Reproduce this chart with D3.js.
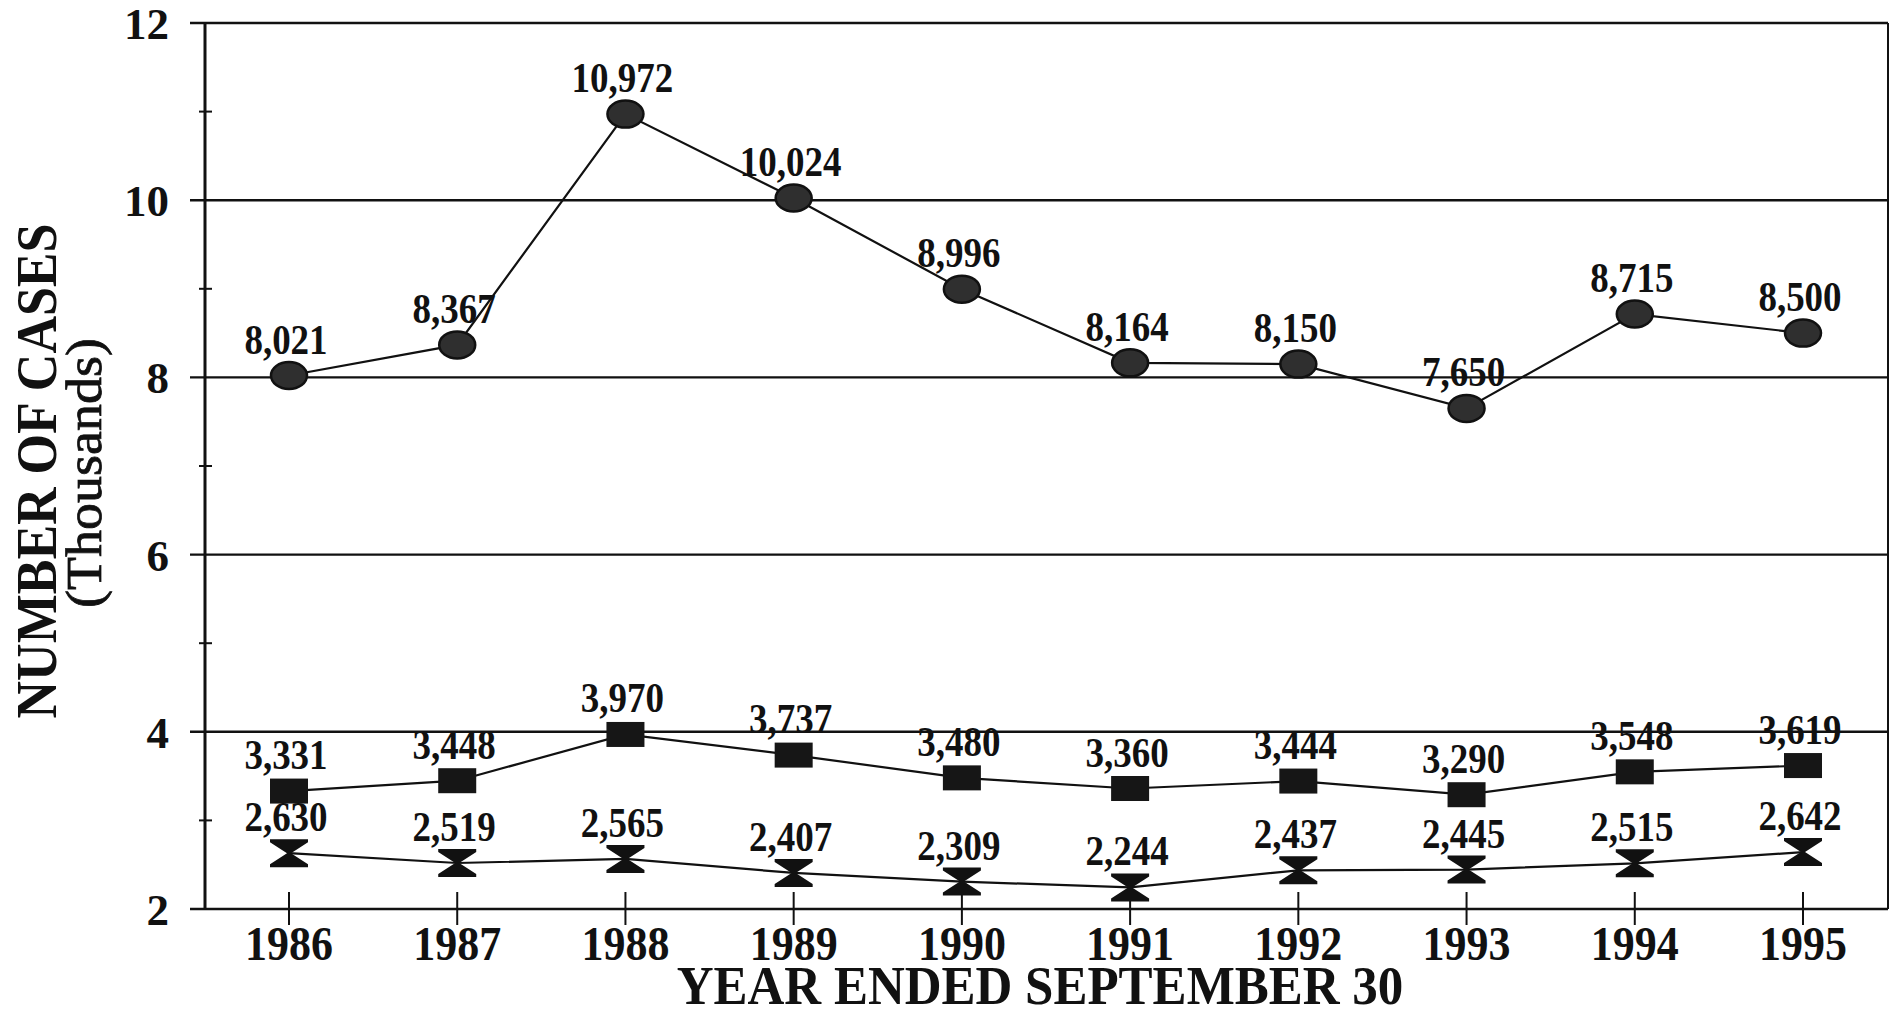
<!DOCTYPE html>
<html>
<head>
<meta charset="utf-8">
<script src="https://cdn.jsdelivr.net/npm/d3@7"></script>
<style>
  html, body { margin: 0; padding: 0; background: #fff; }
  svg { display: block; }
  text { font-family: "Liberation Serif", "Times New Roman", serif; fill: #111; }
</style>
</head>
<body>
<svg id="chart" width="1891" height="1014"></svg>
<script>
(function () {
// ---- data ----
const years = [1986, 1987, 1988, 1989, 1990, 1991, 1992, 1993, 1994, 1995];
const seriesCircle = [8021, 8367, 10972, 10024, 8996, 8164, 8150, 7650, 8715, 8500];
const seriesSquare = [3331, 3448, 3970, 3737, 3480, 3360, 3444, 3290, 3548, 3619];
const seriesHourglass = [2630, 2519, 2565, 2407, 2309, 2244, 2437, 2445, 2515, 2642];
const yTicks = [2, 4, 6, 8, 10, 12];
const yMinorTicks = [3, 5, 7, 9, 11];
const xTitle = "YEAR ENDED SEPTEMBER 30";
const yTitle = "NUMBER OF CASES";
const ySubTitle = "(Thousands)";

// ---- layout ----
const svg = d3.select("#chart");
const plotLeft = 205, plotRight = 1888, plotTop = 23, plotBottom = 909;

const x = d3.scalePoint().domain(years).range([289, 1803]);
const y = d3.scaleLinear().domain([2, 12]).range([plotBottom, plotTop]);
const fmt = d3.format(",");
const ink = "#111";
const tall = 1.12; // scanned type looks vertically stretched

// gridlines (extend a little left of axis)
svg.append("g").selectAll("line").data(yTicks).join("line")
  .attr("x1", 190).attr("x2", plotRight)
  .attr("y1", d => y(d)).attr("y2", d => y(d))
  .attr("stroke", ink).attr("stroke-width", 2.4);

// right border
svg.append("line").attr("x1", plotRight).attr("x2", plotRight)
  .attr("y1", y(12)).attr("y2", y(2)).attr("stroke", ink).attr("stroke-width", 2);

// left axis line
svg.append("line").attr("x1", plotLeft).attr("x2", plotLeft)
  .attr("y1", y(12)).attr("y2", y(2)).attr("stroke", ink).attr("stroke-width", 3);

// minor ticks
svg.append("g").selectAll("line").data(yMinorTicks).join("line")
  .attr("x1", 199).attr("x2", 212)
  .attr("y1", d => y(d)).attr("y2", d => y(d))
  .attr("stroke", ink).attr("stroke-width", 2);

// y tick labels
svg.append("g").selectAll("text").data(yTicks).join("text")
  .attr("x", 169).attr("y", d => y(d) + 16)
  .attr("text-anchor", "end")
  .attr("font-size", 45).attr("font-weight", "bold")
  .text(d => d);

// x ticks
svg.append("g").selectAll("line").data(years).join("line")
  .attr("x1", d => x(d)).attr("x2", d => x(d))
  .attr("y1", plotBottom - 17).attr("y2", plotBottom + 16)
  .attr("stroke", ink).attr("stroke-width", 2);

// x tick labels
svg.append("g").selectAll("text").data(years).join("text")
  .attr("transform", d => `translate(${x(d)},960) scale(1,${tall})`)
  .attr("text-anchor", "middle")
  .attr("font-size", 44).attr("font-weight", "bold")
  .text(d => d);

// axis titles
svg.append("text")
  .attr("transform", "translate(1040,1004) scale(1,1.08)")
  .attr("text-anchor", "middle")
  .attr("font-size", 51).attr("font-weight", "bold")
  .text(xTitle);

svg.append("text")
  .attr("transform", "translate(56,471) rotate(-90) scale(1,1.08)")
  .attr("text-anchor", "middle")
  .attr("font-size", 52).attr("font-weight", "bold")
  .text(yTitle);

svg.append("text")
  .attr("transform", "translate(101,473) rotate(-90) scale(1,0.95)")
  .attr("text-anchor", "middle")
  .attr("font-size", 54)
  .attr("stroke", ink).attr("stroke-width", 0.8)
  .text(ySubTitle);

// series
const line = d3.line().x((d, i) => x(years[i])).y(d => y(d / 1000));
const allSeries = [
  { values: seriesCircle, kind: "circle" },
  { values: seriesSquare, kind: "square" },
  { values: seriesHourglass, kind: "hourglass" }
];

const hourglassPath = "M-19,-14 L19,-14 L19,-11 L2,0 L19,11 L19,14 L-19,14 L-19,11 L-2,0 L-19,-11 Z";

allSeries.forEach(s => {
  const g = svg.append("g");
  g.append("path").datum(s.values).attr("d", line)
    .attr("fill", "none").attr("stroke", ink).attr("stroke-width", 2.2);

  const m = g.selectAll("g.m").data(s.values).join("g")
    .attr("class", "m")
    .attr("transform", (d, i) => `translate(${x(years[i])},${y(d / 1000)})`);

  if (s.kind === "circle") {
    m.append("ellipse").attr("rx", 18).attr("ry", 13.5)
      .attr("fill", "#2f2f2f").attr("stroke", ink).attr("stroke-width", 2.5);
  } else if (s.kind === "square") {
    m.append("rect").attr("x", -19).attr("y", -12.5).attr("width", 38).attr("height", 25)
      .attr("fill", "#161616");
  } else {
    m.append("path").attr("d", hourglassPath).attr("fill", "#111");
  }

  g.selectAll("text.v").data(s.values).join("text")
    .attr("class", "v")
    .attr("transform", (d, i) => `translate(${x(years[i]) - 3},${y(d / 1000) - 22}) scale(1,${tall})`)
    .attr("text-anchor", "middle")
    .attr("font-size", 37).attr("font-weight", "bold")
    .text(d => fmt(d));
});
})();
</script>
</body>
</html>
